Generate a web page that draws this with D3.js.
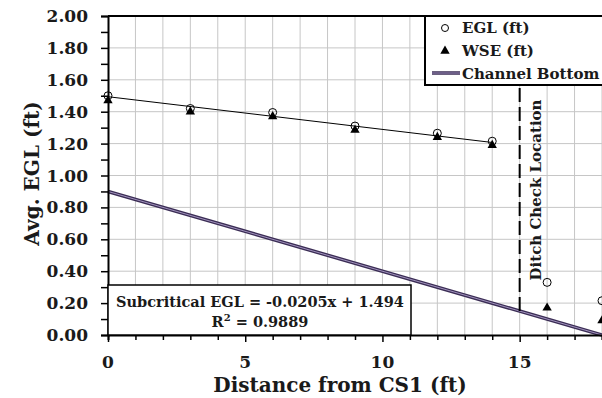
<!DOCTYPE html>
<html>
<head>
<meta charset="utf-8">
<script src="https://cdn.jsdelivr.net/npm/d3@7"></script>
<style>
  body { margin: 0; background: #fff; }
  text { font-family: 'DejaVu Serif', serif; font-weight: bold; fill: #1a1a1a; }
</style>
</head>
<body>
<div id="chart"></div>
<script>
// values
const distance = [0, 3, 6, 9, 12, 14, 16, 18]
const egl = [1.50, 1.42, 1.395, 1.31, 1.265, 1.215, 0.33, 0.215]
const wse = [1.47, 1.40, 1.37, 1.285, 1.24, 1.19, 0.17, 0.09]
const channelX = [0, 18]
const channelBottom = [0.90, 0.00]
const trendSlope = -0.0205
const trendIntercept = 1.494
const trendRange = [0, 14]
const ditchX = 15
const xTicks = [0, 5, 10, 15]
const yTickLabels = ['0.00', '0.20', '0.40', '0.60', '0.80', '1.00', '1.20', '1.40', '1.60', '1.80', '2.00']

const dimensions = {
  width: 602,
  height: 398,
  margin: { top: 16, right: 0, bottom: 63, left: 108 }
}

const wrapper = d3.select('#chart').append('svg')
  .attr('width', dimensions.width)
  .attr('height', dimensions.height)

const innerW = dimensions.width - dimensions.margin.left - dimensions.margin.right
const innerH = dimensions.height - dimensions.margin.top - dimensions.margin.bottom

const xScale = d3.scaleLinear()
  .domain([0, 18])
  .range([dimensions.margin.left, dimensions.margin.left + innerW])
const yScale = d3.scaleLinear()
  .domain([0, 2])
  .range([dimensions.margin.top + innerH, dimensions.margin.top])

// grid
const grid = wrapper.append('g')
grid.selectAll('.vgrid')
  .data(d3.range(1, 19))
  .join('line')
  .attr('x1', d => xScale(d)).attr('x2', d => xScale(d))
  .attr('y1', yScale(0)).attr('y2', yScale(2))
  .attr('stroke', '#c6c6c6').attr('stroke-width', 1)
grid.selectAll('.hgrid')
  .data(yTickLabels.map(Number).filter(d => d > 0))
  .join('line')
  .attr('x1', xScale(0)).attr('x2', xScale(18))
  .attr('y1', d => yScale(d)).attr('y2', d => yScale(d))
  .attr('stroke', '#c6c6c6').attr('stroke-width', 1)

// top border
wrapper.append('line')
  .attr('x1', xScale(0)).attr('x2', xScale(18) + 2)
  .attr('y1', yScale(2)).attr('y2', yScale(2))
  .attr('stroke', '#000').attr('stroke-width', 2)

// channel bottom (double line look)
const channelLine = d3.line()
  .x((d, i) => xScale(channelX[i]))
  .y(d => yScale(d))
wrapper.append('path')
  .attr('d', channelLine(channelBottom))
  .attr('fill', 'none').attr('stroke', '#3b2d55').attr('stroke-width', 3.6)
wrapper.append('path')
  .attr('d', channelLine(channelBottom))
  .attr('fill', 'none').attr('stroke', '#a193bd').attr('stroke-width', 1)

// ditch check dashed line
const channelAtDitch = channelBottom[0] + (channelBottom[1] - channelBottom[0]) * (ditchX - channelX[0]) / (channelX[1] - channelX[0])
wrapper.append('line')
  .attr('x1', xScale(ditchX)).attr('x2', xScale(ditchX))
  .attr('y1', yScale(channelAtDitch)).attr('y2', yScale(2))
  .attr('stroke', '#000').attr('stroke-width', 2)
  .attr('stroke-dasharray', '14,5')

wrapper.append('text')
  .attr('transform', `translate(${xScale(ditchX) + 21}, 190) rotate(-90)`)
  .attr('text-anchor', 'middle')
  .style('font-size', '15px')
  .text('Ditch Check Location')

// trendline
wrapper.append('line')
  .attr('x1', xScale(trendRange[0])).attr('x2', xScale(trendRange[1]))
  .attr('y1', yScale(trendIntercept + trendSlope * trendRange[0]))
  .attr('y2', yScale(trendIntercept + trendSlope * trendRange[1]))
  .attr('stroke', '#000').attr('stroke-width', 1)

// WSE triangles
const tri = d3.symbol().type(d3.symbolTriangle).size(38)
wrapper.selectAll('.wse')
  .data(distance)
  .join('path')
  .attr('d', tri)
  .attr('transform', (d, i) => `translate(${xScale(d)}, ${yScale(wse[i])})`)
  .attr('fill', '#000')

// EGL circles
wrapper.selectAll('.egl')
  .data(distance)
  .join('circle')
  .attr('cx', d => xScale(d))
  .attr('cy', (d, i) => yScale(egl[i]))
  .attr('r', 4)
  .attr('fill', 'none').attr('stroke', '#000').attr('stroke-width', 1)

// axes
const yAxis = d3.axisLeft(yScale)
  .tickValues(d3.range(0, 2.01, 0.1))
  .tickSize(7)
  .tickFormat('')
const yAxisContainer = wrapper.append('g')
  .attr('transform', `translate(${dimensions.margin.left}, 0)`)
  .call(yAxis)
yAxisContainer.select('.domain').attr('stroke-width', 2)
yAxisContainer.selectAll('.tick line').attr('stroke-width', 1.5)

wrapper.selectAll('.ylabel')
  .data(yTickLabels)
  .join('text')
  .attr('x', 88)
  .attr('y', d => yScale(+d) + 6)
  .attr('text-anchor', 'end')
  .style('font-size', '17px')
  .text(d => d)

const xAxis = d3.axisBottom(xScale)
  .tickValues(d3.range(0, 19))
  .tickSize(5)
  .tickFormat('')
const xAxisContainer = wrapper.append('g')
  .attr('transform', `translate(0, ${yScale(0)})`)
  .call(xAxis)
xAxisContainer.select('.domain').attr('stroke-width', 2)
xAxisContainer.selectAll('.tick line')
  .attr('stroke-width', 1.5)
  .attr('y2', d => d % 5 === 0 ? 7 : 5)

wrapper.selectAll('.xlabel')
  .data(xTicks)
  .join('text')
  .attr('x', d => xScale(d))
  .attr('y', yScale(0) + 33)
  .attr('text-anchor', 'middle')
  .style('font-size', '17px')
  .text(d => d)

// axis titles
wrapper.append('text')
  .attr('x', 340)
  .attr('y', 392)
  .attr('text-anchor', 'middle')
  .style('font-size', '20px')
  .text('Distance from CS1 (ft)')

wrapper.append('text')
  .attr('transform', `translate(39, ${yScale(1.0) - 2}) rotate(-90)`)
  .attr('text-anchor', 'middle')
  .style('font-size', '20px')
  .text('Avg. EGL (ft)')

// equation box
const eqBox = wrapper.append('g')
eqBox.append('rect')
  .attr('x', xScale(0)).attr('y', 285)
  .attr('width', 411 - xScale(0)).attr('height', yScale(0) - 285)
  .attr('fill', '#fff').attr('stroke', '#000').attr('stroke-width', 1.5)
eqBox.append('text')
  .attr('x', 260).attr('y', 307)
  .attr('text-anchor', 'middle')
  .style('font-size', '14.5px')
  .text(`Subcritical EGL = ${trendSlope}x + ${trendIntercept}`)
const r2 = eqBox.append('text')
  .attr('x', 260).attr('y', 327)
  .attr('text-anchor', 'middle')
  .style('font-size', '14.5px')
r2.append('tspan').text('R')
r2.append('tspan').attr('dy', -6).style('font-size', '10px').text('2')
r2.append('tspan').attr('dy', 6).text(' = 0.9889')

// legend
const legend = wrapper.append('g')
legend.append('rect')
  .attr('x', 425).attr('y', 16)
  .attr('width', 190).attr('height', 69)
  .attr('fill', '#fff').attr('stroke', '#000').attr('stroke-width', 2)
legend.append('circle')
  .attr('cx', 445).attr('cy', 28).attr('r', 3.5)
  .attr('fill', 'none').attr('stroke', '#000').attr('stroke-width', 1)
legend.append('path')
  .attr('d', tri)
  .attr('transform', 'translate(445, 51)')
  .attr('fill', '#000')
legend.append('line')
  .attr('x1', 432).attr('x2', 460).attr('y1', 73).attr('y2', 73)
  .attr('stroke', '#3b2d55').attr('stroke-width', 3.5)
legend.append('line')
  .attr('x1', 432).attr('x2', 460).attr('y1', 73).attr('y2', 73)
  .attr('stroke', '#a193bd').attr('stroke-width', 1)
const legendItems = ['EGL (ft)', 'WSE (ft)', 'Channel Bottom']
legend.selectAll('.ltext')
  .data(legendItems)
  .join('text')
  .attr('x', 462)
  .attr('y', (d, i) => 33 + i * 23)
  .style('font-size', '15px')
  .text(d => d)
</script>
</body>
</html>
